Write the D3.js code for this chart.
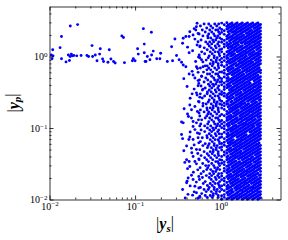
<!DOCTYPE html>
<html lang="en">
<head>
<meta charset="UTF-8">
<script src="https://d3js.org/d3.v7.min.js"></script>
<style>
  body { margin: 0; background: #fff; }
  svg { display: block; }
</style>
</head>
<body>
<div id="chart"></div>
<script>
// tick values and their exponent labels
const majorTicks = [0.01, 0.1, 1];
const tickExp = ["\u22122", "\u22121", "0"];

// scattered points at small |y_s| (pairs [ys, yp])
const sparsePts = [[0.0175,2.67],[0.0213,2.79],[0.0138,1.90],[0.0133,1.33],[0.0109,1.24],[0.0105,1.05],[0.0110,1.02],[0.0107,0.93],[0.0138,0.93],[0.0156,0.84],[0.0171,0.88],[0.0166,1.05],[0.0180,1.08],[0.0184,1.02],[0.0174,1.00],[0.0192,1.03],[0.0208,1.02],[0.0234,1.03],[0.0274,1.03],[0.0286,1.00],[0.0314,1.42],[0.0319,1.00],[0.0343,1.05],[0.0359,0.87],[0.0392,1.28],[0.0385,1.08],[0.0417,0.92],[0.0428,0.85],[0.0482,0.83],[0.0499,1.24],[0.0522,0.92],[0.0560,0.85],[0.0585,0.81],[0.070,1.94],[0.0731,1.84],[0.0751,0.82],[0.0955,0.93],[0.100,0.87],[0.093,0.87],[0.107,1.28],[0.109,1.08],[0.125,2.45],[0.128,1.49],[0.128,1.13],[0.131,0.85]];

// loose points on the left edge of the dense cloud
const fringePts = [[0.155,2.18],[0.163,1.19],[0.156,1.05],[0.139,1.00],[0.134,0.85],[0.149,0.90],[0.179,0.93],[0.199,1.11],[0.195,0.93],[0.238,0.85],[0.267,1.37],[0.292,1.76],[0.305,1.03],[0.327,0.90],[0.349,0.83],[0.365,1.80],[0.359,1.53],[0.392,1.90],[0.428,1.90],[0.410,1.35],[0.428,1.13],[0.436,2.22],[0.476,2.0],[0.530,2.91],[0.512,2.35],[0.544,1.61],[0.570,1.37],[0.561,1.05],[0.597,0.90],[0.521,0.72],[0.365,0.76],
  [0.274,0.87],[0.392,0.72],[0.535,0.68],[0.623,0.72],[0.464,0.62],[0.428,0.57],[0.371,0.49],[0.597,0.53],[0.476,0.55],[0.545,0.46],[0.405,0.38],[0.545,0.39],[0.623,0.35],[0.464,0.30],[0.521,0.31],[0.570,0.27],[0.623,0.22],[0.436,0.21],[0.374,0.186],[0.456,0.18],[0.41,0.157],[0.559,0.162],[0.456,0.138],[0.349,0.121],[0.365,0.118],[0.521,0.118],[0.476,0.123],[0.570,0.107],[0.476,0.105],[0.349,0.081],[0.359,0.071],[0.436,0.075],[0.476,0.069],[0.545,0.073],[0.456,0.052],[0.371,0.048],[0.521,0.050],[0.40,0.036],[0.428,0.034],[0.476,0.040],[0.381,0.033],[0.521,0.0315],[0.436,0.029],[0.456,0.0218],[0.417,0.020],[0.476,0.019],[0.40,0.0171],[0.50,0.0153],[0.359,0.0138],[0.521,0.0124],[0.47,0.0115],[0.57,0.0111],[0.425,0.069],[0.405,0.018],
  [0.52,2.6],[0.49,2.45],[0.545,2.1],[0.50,1.75],[0.53,1.45],[0.47,1.2],[0.55,0.98],[0.51,0.85],[0.545,0.60],[0.50,0.50],[0.555,0.42],[0.49,0.35],[0.53,0.29],[0.44,0.26],[0.55,0.235],[0.50,0.20],[0.535,0.17],[0.42,0.145],[0.55,0.13],[0.50,0.095],[0.44,0.088],[0.535,0.085],[0.555,0.062],[0.49,0.058],[0.40,0.056],[0.54,0.044],[0.46,0.045],[0.555,0.037],[0.50,0.034],[0.41,0.027],[0.54,0.026],[0.48,0.024],[0.555,0.021],[0.52,0.0175],[0.44,0.0155],[0.555,0.0145],[0.49,0.0128],[0.415,0.0118],[0.54,0.0104],[0.385,0.0105]];

// semi-dense band, rows of [yp, [ys...]]
const edgeRows = [
  [2.85,[0.64,0.725,0.852,0.948]],[2.67,[0.58,0.765,0.899]],[2.50,[0.687,0.807,0.974]],[2.35,[0.61,0.745,0.875,0.923]],
  [2.20,[0.66,0.786,0.948]],[2.06,[0.56,0.725,0.829,0.974]],[1.94,[0.62,0.706,0.852,0.923]],[1.82,[0.71,0.765,0.899,0.974]],
  [1.70,[0.59,0.807,0.875]],[1.60,[0.67,0.745,0.829,0.948]],[1.50,[0.706,0.786,0.923]],[1.40,[0.575,0.736,0.864,0.96]],
  [1.32,[0.643,0.775,0.887]],[1.24,[0.696,0.818,0.974]],[1.16,[0.60,0.755,0.862,0.935]],[1.09,[0.65,0.797,0.96]],
  [1.02,[0.735,0.84,0.974]],[0.96,[0.57,0.716,0.84,0.91]],[0.89,[0.678,0.776,0.887,0.974]],[0.84,[0.62,0.818,0.887]],
  [0.79,[0.755,0.818,0.935]],[0.74,[0.66,0.696,0.797,0.935]],[0.69,[0.58,0.725,0.852,0.948]],[0.65,[0.69,0.765,0.899]],
  [0.605,[0.63,0.807,0.974]],[0.57,[0.70,0.745,0.875,0.923]],[0.53,[0.60,0.786,0.948]],[0.50,[0.669,0.829,0.974]],
  [0.47,[0.565,0.706,0.852,0.923]],[0.44,[0.64,0.765,0.899,0.974]],[0.41,[0.72,0.807,0.875]],[0.387,[0.59,0.745,0.829,0.948]],
  [0.362,[0.66,0.786,0.923]],[0.34,[0.612,0.736,0.864,0.96]],[0.319,[0.70,0.775,0.887]],[0.30,[0.578,0.696,0.818,0.974]],
  [0.28,[0.65,0.755,0.862,0.935]],[0.263,[0.61,0.797,0.96]],[0.246,[0.735,0.84,0.974]],[0.231,[0.56,0.716,0.84,0.91]],
  [0.217,[0.678,0.776,0.887,0.974]],[0.203,[0.62,0.818,0.887]],[0.191,[0.69,0.755,0.818,0.935]],[0.179,[0.58,0.696,0.797,0.935]],
  [0.168,[0.64,0.725,0.852,0.948]],[0.157,[0.71,0.765,0.899]],[0.147,[0.570,0.687,0.807,0.974]],[0.138,[0.66,0.745,0.875,0.923]],
  [0.130,[0.60,0.786,0.948]],[0.122,[0.725,0.829,0.974]],[0.114,[0.585,0.706,0.852,0.923]],[0.107,[0.65,0.765,0.899,0.974]],
  [0.100,[0.70,0.807,0.875]],[0.094,[0.59,0.745,0.829,0.948]],[0.089,[0.651,0.786,0.923]],[0.083,[0.565,0.736,0.864,0.96]],
  [0.078,[0.69,0.775,0.887]],[0.073,[0.61,0.696,0.818,0.974]],[0.0687,[0.755,0.862,0.935]],[0.0645,[0.58,0.797,0.96]],
  [0.0604,[0.66,0.735,0.84,0.974]],[0.0567,[0.62,0.716,0.84,0.91]],[0.0531,[0.70,0.776,0.887,0.974]],[0.0498,[0.57,0.818,0.887]],
  [0.0467,[0.64,0.755,0.818,0.935]],[0.0438,[0.696,0.797,0.935]],[0.0411,[0.59,0.725,0.852,0.948]],[0.0385,[0.651,0.765,0.899]],
  [0.0361,[0.56,0.687,0.807,0.974]],[0.0339,[0.72,0.875,0.923]],[0.0318,[0.617,0.786,0.948]],[0.0298,[0.669,0.725,0.829,0.974]],
  [0.0279,[0.575,0.706,0.852,0.923]],[0.0262,[0.687,0.765,0.899,0.974]],[0.0246,[0.63,0.807,0.875]],[0.0230,[0.59,0.745,0.829,0.948]],
  [0.0216,[0.68,0.786,0.923]],[0.0203,[0.612,0.736,0.864,0.96]],[0.0190,[0.565,0.775,0.887]],[0.0178,[0.66,0.818,0.974]],
  [0.0167,[0.626,0.755,0.862,0.935]],[0.0157,[0.70,0.797,0.96]],[0.0147,[0.58,0.735,0.84,0.974]],[0.0138,[0.64,0.716,0.84,0.91]],
  [0.0129,[0.678,0.776,0.887,0.974]],[0.0121,[0.60,0.818,0.887]],[0.0114,[0.66,0.755,0.818,0.935]],[0.0107,[0.57,0.696,0.797,0.935]]
];

// dense block: one |y_s| per column, list of |y_p| values in each
const coreX = [1.027, 1.101, 1.181, 1.266, 1.357, 1.455, 1.560, 1.672, 1.793, 1.922, 2.061, 2.209, 2.368, 2.539, 2.722, 2.918];
const coreY = [
  [0.0101,0.0113,0.0138,0.0155,0.0189,0.0213,0.0232,0.0321,0.0355,0.0399,0.0492,0.0541,0.0608,0.0748,0.0822,0.101,0.114,0.127,0.155,0.19,0.211,0.236,0.294,0.322,0.402,0.447,0.49,0.607,0.755,0.83,0.94,1.16,1.27,1.58,1.74,2.17,2.38,2.93],
  [0.0107,0.0117,0.0133,0.0161,0.0181,0.0198,0.0249,0.0272,0.0307,0.0336,0.042,0.0461,0.0575,0.0632,0.071,0.0868,0.0975,0.107,0.12,0.148,0.181,0.204,0.223,0.279,0.306,0.345,0.378,0.426,0.518,0.583,0.64,0.72,0.876,0.985,1.08,1.36,1.48,1.67,2.04,2.29,2.78],
  [0.0102,0.0124,0.014,0.0152,0.0173,0.0209,0.0236,0.0258,0.0291,0.0359,0.0393,0.0444,0.0486,0.0547,0.0665,0.0751,0.0821,0.0925,0.112,0.127,0.139,0.157,0.171,0.215,0.235,0.265,0.29,0.364,0.398,0.449,0.491,0.555,0.672,0.76,0.83,0.935,1.02,1.16,1.41,1.56,1.76,1.92,2.42,2.64,2.96],
  [0.0105,0.0119,0.0131,0.0147,0.0179,0.0202,0.022,0.0248,0.0276,0.0303,0.034,0.0374,0.0467,0.0512,0.0576,0.0633,0.0703,0.079,0.0964,0.109,0.118,0.134,0.146,0.165,0.181,0.203,0.252,0.275,0.31,0.34,0.383,0.42,0.472,0.575,0.647,0.71,0.8,0.877,1.1,1.2,1.36,1.5,1.65,1.85,2.06,2.26,2.55,2.81],
  [0.0101,0.0111,0.0126,0.0138,0.0155,0.017,0.0191,0.021,0.0262,0.0287,0.0323,0.0355,0.0398,0.0438,0.0491,0.0607,0.0667,0.0749,0.0823,0.0923,0.101,0.114,0.125,0.141,0.174,0.191,0.214,0.236,0.264,0.291,0.327,0.36,0.447,0.493,0.553,0.608,0.681,0.75,0.84,0.925,1.04,1.14,1.29,1.41,1.76,1.93,2.17,2.39,2.67,2.94],
  [0.0106,0.0117,0.0145,0.0163,0.0181,0.0199,0.0223,0.0246,0.0275,0.0304,0.0339,0.0377,0.0416,0.0466,0.0513,0.0574,0.0634,0.0788,0.087,0.097,0.107,0.12,0.132,0.148,0.163,0.183,0.201,0.226,0.249,0.31,0.341,0.382,0.421,0.47,0.52,0.582,0.641,0.79,0.885,0.976,1.09,1.22,1.34,1.5,1.66,1.83,2.06,2.26,2.54,2.79],
  [0.0102,0.0112,0.0124,0.014,0.0153,0.0172,0.0189,0.0212,0.0235,0.0259,0.029,0.032,0.0397,0.0441,0.0488,0.0545,0.0601,0.0672,0.0743,0.0829,0.0916,0.103,0.126,0.139,0.157,0.172,0.193,0.212,0.238,0.262,0.293,0.324,0.363,0.4,0.446,0.496,0.548,0.613,0.676,0.756,0.928,1.03,1.16,1.27,1.43,1.56,1.76,1.93,2.17,2.41,2.65,2.95],
  [0.0107,0.0118,0.0133,0.0146,0.0161,0.018,0.0221,0.0248,0.0273,0.0306,0.0337,0.0377,0.0419,0.0463,0.0516,0.0571,0.0638,0.0705,0.0787,0.0871,0.0971,0.108,0.119,0.134,0.147,0.164,0.203,0.224,0.251,0.278,0.307,0.343,0.379,0.424,0.468,0.522,0.578,0.645,0.714,0.796,0.88,0.982,1.09,1.21,1.35,1.67,1.84,2.04,2.28,2.52,2.81],
  [0.0101,0.0112,0.0125,0.0137,0.0154,0.0171,0.019,0.0211,0.0234,0.026,0.0289,0.0321,0.0357,0.0396,0.044,0.0543,0.0603,0.068,0.0745,0.0827,0.0919,0.102,0.113,0.126,0.14,0.156,0.173,0.192,0.216,0.237,0.263,0.292,0.361,0.401,0.445,0.495,0.55,0.611,0.678,0.754,0.83,0.93,1.03,1.15,1.28,1.42,1.57,1.75,1.94,2.16,2.4,2.66,2.95],
  [0.0106,0.0118,0.0132,0.0146,0.0165,0.018,0.02,0.0222,0.0247,0.0305,0.0338,0.0376,0.0418,0.0464,0.0515,0.0572,0.0636,0.0706,0.0785,0.0872,0.0969,0.108,0.117,0.133,0.147,0.164,0.182,0.202,0.225,0.25,0.277,0.308,0.342,0.38,0.423,0.475,0.521,0.643,0.715,0.794,0.882,0.98,1.09,1.19,1.35,1.49,1.66,1.84,2.27,2.53,2.8],
  [0.0101,0.0112,0.0125,0.0139,0.0154,0.0171,0.019,0.0211,0.0238,0.026,0.0289,0.0321,0.0357,0.0396,0.044,0.0489,0.0543,0.0603,0.067,0.0745,0.0919,0.102,0.113,0.126,0.138,0.156,0.173,0.192,0.213,0.237,0.263,0.292,0.325,0.361,0.401,0.445,0.495,0.55,0.62,0.678,0.754,0.837,0.93,1.15,1.28,1.42,1.57,1.75,1.94,2.13,2.4,2.66,2.95],
  [0.0106,0.0118,0.0132,0.0146,0.018,0.02,0.0222,0.0247,0.0274,0.0305,0.0338,0.037,0.0418,0.0464,0.0515,0.0572,0.0636,0.0706,0.0785,0.0872,0.0969,0.108,0.119,0.133,0.147,0.167,0.182,0.202,0.25,0.277,0.308,0.342,0.38,0.423,0.469,0.521,0.579,0.643,0.715,0.794,0.87,0.98,1.09,1.21,1.35,1.49,1.66,1.84,2.05,2.27,2.53,2.8],
  [0.0101,0.0112,0.0125,0.0139,0.0151,0.0171,0.019,0.0211,0.0234,0.026,0.0289,0.0357,0.0396,0.044,0.0489,0.0543,0.0603,0.067,0.0745,0.0827,0.0919,0.104,0.113,0.126,0.14,0.156,0.173,0.192,0.213,0.237,0.263,0.292,0.325,0.361,0.401,0.495,0.55,0.611,0.678,0.754,0.837,0.93,1.03,1.15,1.28,1.42,1.6,1.75,1.94,2.16,2.66,2.95],
  [0.0106,0.0118,0.0132,0.0146,0.0162,0.018,0.02,0.0222,0.0247,0.0279,0.0305,0.0338,0.0376,0.0418,0.0464,0.0515,0.0572,0.0636,0.0706,0.0785,0.0872,0.0969,0.119,0.133,0.147,0.164,0.182,0.202,0.225,0.25,0.277,0.308,0.336,0.38,0.423,0.469,0.521,0.579,0.643,0.715,0.794,0.882,0.98,1.09,1.35,1.49,1.66,1.84,2.05,2.27,2.53,2.8],
  [0.0101,0.0112,0.0125,0.0139,0.0154,0.0171,0.019,0.0234,0.026,0.0289,0.0321,0.0357,0.0396,0.044,0.0489,0.0543,0.0595,0.067,0.0745,0.0827,0.0919,0.102,0.113,0.126,0.14,0.156,0.173,0.192,0.213,0.263,0.292,0.325,0.361,0.401,0.445,0.495,0.55,0.611,0.678,0.754,0.837,0.93,1.03,1.13,1.28,1.42,1.57,1.75,1.94,2.16,2.4,2.66,2.95],
  [0.0106,0.0118,0.0129,0.0146,0.0162,0.018,0.02,0.0222,0.0247,0.0274,0.0305,0.0338,0.0376,0.0418,0.0464,0.0515,0.0572,0.0706,0.0785,0.0872,0.0969,0.108,0.119,0.133,0.147,0.164,0.182,0.202,0.225,0.25,0.277,0.308,0.342,0.38,0.423,0.469,0.521,0.59,0.643,0.794,0.882,0.98,1.09,1.21,1.35,1.49,1.66,1.84,2.05,2.27,2.53,2.8]
];

// more of the dense block, between the columns above
const midX = [1.222, 1.310, 1.405, 1.506, 1.615, 1.731, 1.856, 1.990, 2.134, 2.288, 2.453, 2.630, 2.818];
const midY = [
  [0.01037,0.0115,0.0128,0.0143,0.0158,0.0195,0.0217,0.024,0.0267,0.0297,0.033,0.0367,0.0407,0.0502,0.0557,0.0619,0.0688,0.0765,0.0849,0.0944,0.105,0.116,0.129,0.144,0.16,0.197,0.219,0.243,0.27,0.3,0.371,0.412,0.457,0.508,0.565,0.627,0.696,0.859,0.955,1.06,1.18,1.31,1.46,1.8,1.99,2.22,2.46,2.73],
  [0.0109,0.0121,0.0135,0.015,0.0167,0.0185,0.0206,0.0228,0.0253,0.0313,0.0347,0.0386,0.0429,0.0476,0.0529,0.0588,0.0653,0.0725,0.0806,0.0895,0.0994,0.122,0.136,0.151,0.169,0.187,0.208,0.23,0.256,0.285,0.316,0.352,0.391,0.434,0.482,0.595,0.661,0.734,0.816,0.906,1.01,1.11,1.24,1.38,1.54,1.7,1.89,2.33,2.59,2.87],
  [0.01037,0.0115,0.0128,0.0158,0.0176,0.0195,0.0217,0.024,0.0267,0.0297,0.033,0.0367,0.0407,0.0452,0.0502,0.0557,0.0619,0.0688,0.0765,0.0849,0.0944,0.105,0.116,0.129,0.144,0.16,0.178,0.197,0.219,0.27,0.3,0.334,0.371,0.412,0.457,0.508,0.565,0.627,0.696,0.774,0.859,0.955,1.06,1.18,1.31,1.46,1.61,1.8,1.99,2.22,2.46,2.73],
  [0.0109,0.0121,0.0135,0.015,0.0167,0.0185,0.0206,0.0228,0.0253,0.0281,0.0313,0.0347,0.0386,0.0429,0.0476,0.0529,0.0588,0.0653,0.0806,0.0895,0.0994,0.11,0.122,0.136,0.151,0.169,0.187,0.208,0.23,0.256,0.285,0.316,0.352,0.391,0.434,0.482,0.536,0.595,0.661,0.734,0.816,0.906,1.01,1.24,1.38,1.54,1.7,1.89,2.1,2.33,2.59,2.87],
  [0.01037,0.0115,0.0128,0.0143,0.0158,0.0176,0.0195,0.0217,0.024,0.0267,0.0297,0.033,0.0367,0.0407,0.0452,0.0502,0.0557,0.0619,0.0688,0.0765,0.0849,0.0944,0.105,0.116,0.129,0.16,0.178,0.197,0.219,0.243,0.27,0.3,0.334,0.371,0.412,0.457,0.508,0.565,0.627,0.696,0.774,0.859,0.955,1.06,1.18,1.31,1.46,1.61,1.8,1.99,2.22,2.46,2.73],
  [0.0109,0.0121,0.0135,0.015,0.0167,0.0185,0.0206,0.0228,0.0253,0.0281,0.0313,0.0386,0.0429,0.0476,0.0529,0.0588,0.0653,0.0725,0.0806,0.0895,0.0994,0.11,0.122,0.136,0.151,0.169,0.187,0.208,0.23,0.256,0.285,0.316,0.352,0.391,0.434,0.482,0.536,0.595,0.734,0.816,0.906,1.01,1.11,1.24,1.38,1.54,1.7,1.89,2.1,2.33,2.59,2.87],
  [0.01037,0.0115,0.0128,0.0143,0.0158,0.0176,0.0195,0.0217,0.024,0.0267,0.0297,0.033,0.0367,0.0407,0.0452,0.0502,0.0557,0.0619,0.0688,0.0765,0.0849,0.0944,0.105,0.116,0.129,0.144,0.16,0.178,0.197,0.219,0.243,0.27,0.3,0.334,0.371,0.412,0.457,0.508,0.565,0.627,0.696,0.774,0.859,0.955,1.06,1.18,1.31,1.61,1.8,1.99,2.22,2.46,2.73],
  [0.0109,0.0121,0.0135,0.015,0.0167,0.0185,0.0228,0.0253,0.0281,0.0313,0.0347,0.0386,0.0429,0.0476,0.0529,0.0588,0.0653,0.0725,0.0806,0.0895,0.0994,0.11,0.122,0.136,0.151,0.169,0.187,0.208,0.256,0.285,0.316,0.352,0.391,0.434,0.482,0.536,0.595,0.661,0.734,0.816,0.906,1.01,1.11,1.24,1.38,1.54,1.7,1.89,2.1,2.33,2.59,2.87],
  [0.01037,0.0115,0.0128,0.0143,0.0158,0.0176,0.0195,0.0217,0.024,0.0267,0.0297,0.033,0.0367,0.0407,0.0452,0.0502,0.0557,0.0619,0.0688,0.0765,0.0944,0.105,0.116,0.129,0.144,0.16,0.178,0.197,0.219,0.243,0.27,0.3,0.334,0.371,0.412,0.457,0.508,0.565,0.627,0.696,0.774,0.859,0.955,1.06,1.18,1.31,1.46,1.61,1.8,1.99,2.22,2.46,2.73],
  [0.0109,0.0121,0.0135,0.015,0.0167,0.0185,0.0206,0.0228,0.0253,0.0281,0.0313,0.0347,0.0386,0.0429,0.0476,0.0529,0.0588,0.0653,0.0725,0.0806,0.0895,0.0994,0.11,0.122,0.136,0.151,0.169,0.187,0.208,0.23,0.256,0.285,0.316,0.352,0.391,0.482,0.536,0.595,0.661,0.734,0.816,0.906,1.01,1.11,1.24,1.38,1.54,1.7,1.89,2.1,2.33,2.59,2.87],
  [0.01037,0.0115,0.0128,0.0143,0.0158,0.0176,0.0195,0.0217,0.024,0.0267,0.0297,0.033,0.0367,0.0452,0.0502,0.0557,0.0619,0.0688,0.0765,0.0849,0.0944,0.105,0.116,0.129,0.144,0.16,0.178,0.197,0.219,0.243,0.27,0.3,0.334,0.371,0.412,0.457,0.508,0.565,0.627,0.696,0.774,0.955,1.06,1.18,1.31,1.46,1.61,1.8,1.99,2.22,2.46,2.73],
  [0.0109,0.0121,0.0135,0.015,0.0167,0.0185,0.0206,0.0228,0.0253,0.0281,0.0313,0.0347,0.0386,0.0429,0.0476,0.0529,0.0588,0.0653,0.0725,0.0806,0.0895,0.0994,0.11,0.122,0.151,0.169,0.187,0.208,0.23,0.256,0.285,0.316,0.352,0.391,0.434,0.482,0.536,0.595,0.661,0.734,0.816,0.906,1.01,1.11,1.24,1.38,1.54,1.7,1.89,2.1,2.33,2.59,2.87],
  [0.01037,0.0115,0.0128,0.0143,0.0158,0.0176,0.0195,0.0217,0.0267,0.0297,0.033,0.0367,0.0407,0.0452,0.0502,0.0557,0.0619,0.0688,0.0765,0.0849,0.0944,0.105,0.116,0.129,0.144,0.16,0.178,0.197,0.219,0.243,0.27,0.3,0.334,0.371,0.412,0.457,0.508,0.627,0.696,0.774,0.859,0.955,1.06,1.18,1.31,1.46,1.61,1.8,1.99,2.22,2.46,2.73]
];

const width = 288, height = 240;
const plotLeft = 49.5, plotRight = 280.5, plotTop = 6.5, plotBottom = 199.5;
const serif = "'Liberation Serif', 'DejaVu Serif', serif";

const svg = d3.select("#chart")
              .append("svg")
              .attr("width", width)
              .attr("height", height);

svg.append("rect").attr("width", width).attr("height", height).attr("fill", "#fff");

const x = d3.scaleLog().domain([0.01, 5]).range([plotLeft, plotRight]);
const y = d3.scaleLog().domain([0.01, 5]).range([plotBottom, plotTop]);

// gather every point
const points = [];
sparsePts.forEach(p => points.push(p));
fringePts.forEach(p => points.push(p));
edgeRows.forEach(([yv, xs]) => xs.forEach(xv => points.push([xv, yv])));
coreX.forEach((xv, i) => coreY[i].forEach(yv => points.push([xv, yv])));
midX.forEach((xv, i) => midY[i].forEach(yv => points.push([xv, yv])));

svg.append("g")
   .selectAll("circle")
   .data(points)
   .enter()
   .append("circle")
   .attr("cx", d => x(d[0]))
   .attr("cy", d => y(d[1]))
   .attr("r", 1.45)
   .attr("fill", "#0000ff");

// minor ticks come from the log scale itself
const minorX = x.ticks().filter(v => !majorTicks.includes(v) && v < 5);
const minorY = y.ticks().filter(v => !majorTicks.includes(v) && v < 5);

function labelTicks(g) {
    g.selectAll(".tick text").each(function(d, i) {
        const t = d3.select(this).text(null);
        t.append("tspan").text("10");
        t.append("tspan").attr("dy", "-0.45em").attr("font-size", "7px").text(tickExp[i]);
    });
}

function styleAxis(g) {
    g.attr("font-family", serif)
     .attr("font-size", 10)
     .attr("color", "#000");
    g.selectAll("line, path").attr("stroke-width", 0.8);
}

// bottom
svg.append("g").attr("transform", `translate(0,${plotBottom})`)
   .call(d3.axisBottom(x).tickValues(majorTicks).tickSize(-4).tickSizeOuter(0).tickPadding(3))
   .call(labelTicks).call(styleAxis);
svg.append("g").attr("transform", `translate(0,${plotBottom})`)
   .call(d3.axisBottom(x).tickValues(minorX).tickSize(-2).tickSizeOuter(0).tickFormat(""))
   .call(styleAxis).select(".domain").remove();
// top
svg.append("g").attr("transform", `translate(0,${plotTop})`)
   .call(d3.axisTop(x).tickValues(majorTicks).tickSize(-4).tickSizeOuter(0).tickFormat(""))
   .call(styleAxis);
svg.append("g").attr("transform", `translate(0,${plotTop})`)
   .call(d3.axisTop(x).tickValues(minorX).tickSize(-2).tickSizeOuter(0).tickFormat(""))
   .call(styleAxis).select(".domain").remove();
// left
svg.append("g").attr("transform", `translate(${plotLeft},0)`)
   .call(d3.axisLeft(y).tickValues(majorTicks).tickSize(-4).tickSizeOuter(0).tickPadding(2))
   .call(labelTicks).call(styleAxis);
svg.append("g").attr("transform", `translate(${plotLeft},0)`)
   .call(d3.axisLeft(y).tickValues(minorY).tickSize(-2).tickSizeOuter(0).tickFormat(""))
   .call(styleAxis).select(".domain").remove();
// right
svg.append("g").attr("transform", `translate(${plotRight},0)`)
   .call(d3.axisRight(y).tickValues(majorTicks).tickSize(-4).tickSizeOuter(0).tickFormat(""))
   .call(styleAxis);
svg.append("g").attr("transform", `translate(${plotRight},0)`)
   .call(d3.axisRight(y).tickValues(minorY).tickSize(-2).tickSizeOuter(0).tickFormat(""))
   .call(styleAxis).select(".domain").remove();

// axis titles
function mathLabel(t, sub) {
    t.append("tspan").text("|");
    t.append("tspan").attr("font-weight", "bold").attr("font-style", "italic").text("y");
    t.append("tspan").attr("font-weight", "bold").attr("font-style", "italic")
     .attr("font-size", 11).attr("dy", "0.25em").text(sub);
    t.append("tspan").attr("dy", "-0.25em").text("|");
}

svg.append("text")
   .attr("x", (plotLeft + plotRight) / 2)
   .attr("y", 229)
   .attr("text-anchor", "middle")
   .attr("font-family", serif)
   .attr("font-size", 16)
   .call(mathLabel, "s");

svg.append("text")
   .attr("transform", `translate(18.5,${(plotTop + plotBottom) / 2}) rotate(-90)`)
   .attr("text-anchor", "middle")
   .attr("font-family", serif)
   .attr("font-size", 16)
   .call(mathLabel, "p");
</script>
</body>
</html>
